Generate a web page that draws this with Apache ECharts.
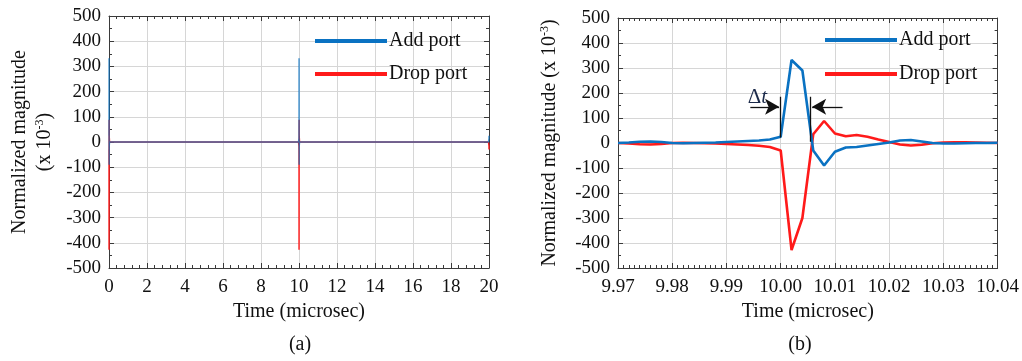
<!DOCTYPE html>
<html>
<head>
<meta charset="utf-8">
<script src="https://cdn.jsdelivr.net/npm/echarts@6/dist/echarts.min.js"></script>
<style>
  html, body { margin: 0; padding: 0; background: #fff; }
  #chart { width: 1022px; height: 361px; }
</style>
</head>
<body>
<div id="chart"></div>
<script>
// (a) full window: pulses at 0, 10 and 20 microsec
const leftTime = [0, 0.002, 0.004, 0.006, 0.008, 0.010, 0.012, 0.03, 9.97, 9.998, 10.000, 10.002, 10.004, 10.006, 10.008, 10.010, 10.012, 10.03, 19.97, 19.998, 20.0];
const leftAdd  = [25, 332, 290, -30, -90, -35, -18, 0, 0, 14, 25, 332, 290, -30, -90, -35, -18, 0, 0, 14, 25];
const leftDrop = [-30, -428, -300, 35, 88, 38, 27, 0, 0, -16, -30, -428, -300, 35, 88, 38, 27, 0, 0, -16, -30];

// (b) zoom around 10 microsec
const rightTime = [9.970, 9.972, 9.974, 9.976, 9.978, 9.980, 9.982, 9.984, 9.986, 9.988,
                   9.990, 9.992, 9.994, 9.996, 9.998, 10.000, 10.002, 10.004, 10.006, 10.008,
                   10.010, 10.012, 10.014, 10.016, 10.018, 10.020, 10.022, 10.024, 10.026, 10.028,
                   10.030, 10.032, 10.034, 10.036, 10.038, 10.040];
const rightAdd  = [0, 2, 5, 6, 4, 0, -1, 0, 1, 2,
                   4, 6, 8, 10, 14, 25, 332, 290, -30, -90,
                   -35, -18, -16, -10, -4, 2, 10, 12, 6, 0,
                   -2, -2, -1, 0, 0, 1];
const rightDrop = [0, -2, -5, -6, -4, 0, 1, 0, -1, -2,
                   -4, -6, -8, -11, -16, -30, -428, -300, 35, 88,
                   38, 27, 32, 25, 14, 4, -6, -10, -7, -1,
                   2, 3, 3, 2, 1, 0];

const yTicks = [-500, 500, 100];
const leftX = [0, 20, 2];
const rightX = [9.97, 10.04, 0.01];

const FONT = '"Liberation Serif", "Times New Roman", serif';
const BLUE = '#0a72c2';
const RED = '#ff1a1a';
const AXIS = '#3a3a3a';

const pair = (t, v) => t.map((x, i) => [x, v[i]]);

function xAxes(grid, range, minorSplit) {
  const base = {
    gridIndex: grid, type: 'value', min: range[0], max: range[1], interval: range[2],
    axisLine: { onZero: false, lineStyle: { color: AXIS, width: 1 } },
    axisTick: { inside: true, length: 5, lineStyle: { color: AXIS } },
    minorTick: { show: true, splitNumber: minorSplit, length: 3, lineStyle: { color: AXIS } },
  };
  return [
    Object.assign({}, base, {
      position: 'bottom',
      name: 'Time (microsec)', nameLocation: 'middle', nameGap: 33,
      nameTextStyle: { fontFamily: FONT, fontSize: 20, color: '#111' },
      axisLabel: {
        fontFamily: FONT, fontSize: 19, color: '#111', margin: 10,
        formatter: v => range[2] < 1 ? v.toFixed(2) : String(Math.round(v)),
      },
      splitLine: { show: true, lineStyle: { color: '#d6d6d6', width: 1 } },
    }),
    Object.assign({}, base, { position: 'top', axisLabel: { show: false }, splitLine: { show: false } }),
  ];
}

function yAxes(grid, name, gap) {
  const base = {
    gridIndex: grid, type: 'value', min: yTicks[0], max: yTicks[1], interval: yTicks[2],
    axisLine: { show: true, onZero: false, lineStyle: { color: AXIS, width: 1 } },
    axisTick: { show: true, inside: true, length: 5, lineStyle: { color: AXIS } },
    minorTick: { show: true, splitNumber: 2, length: 3, lineStyle: { color: AXIS } },
  };
  return [
    Object.assign({}, base, {
      position: 'left',
      name: name, nameLocation: 'middle', nameGap: gap,
      nameTextStyle: {
        fontFamily: FONT, fontSize: 20, color: '#111', lineHeight: 25,
        rich: { sup: { fontFamily: FONT, fontSize: 12, color: '#111', padding: [0, 0, 10, 0] } },
      },
      axisLabel: { fontFamily: FONT, fontSize: 19, color: '#111', margin: 8 },
      splitLine: { show: true, lineStyle: { color: '#d6d6d6', width: 1 } },
    }),
    Object.assign({}, base, { position: 'right', axisLabel: { show: false }, splitLine: { show: false } }),
  ];
}

function legend(left, top, gap) {
  return {
    orient: 'vertical', left: left, top: top, itemGap: gap,
    icon: 'rect', itemWidth: 72, itemHeight: 4,
    data: ['Add port', 'Drop port'],
    textStyle: { fontFamily: FONT, fontSize: 20, color: '#111', lineHeight: 22, padding: [0, 0, 0, -3] },
    selectedMode: false,
  };
}

const arrowStyle = { color: '#111', width: 1.3, type: 'solid' };

const chart = echarts.init(document.getElementById('chart'), null, { renderer: 'canvas' });

chart.setOption({
  animation: false,
  backgroundColor: '#fff',
  grid: [
    { left: 109, top: 16, width: 380, height: 252 },
    { left: 618, top: 18, width: 380, height: 250 },
  ],
  legend: [legend(310, 25, 11), legend(820, 24, 12)],
  xAxis: [...xAxes(0, leftX, 5), ...xAxes(1, rightX, 10)],
  yAxis: [
    ...yAxes(0, 'Normalized magnitude\n(x 10{sup|-3})', 52),
    ...yAxes(1, 'Normalized magnitude (x 10{sup|-3})', 56),
  ],
  series: [
    {
      name: 'Drop port', type: 'line', xAxisIndex: 0, yAxisIndex: 0,
      data: pair(leftTime, leftDrop), showSymbol: false,
      lineStyle: { color: RED, width: 1.4 }, itemStyle: { color: RED },
    },
    {
      name: 'Add port', type: 'line', xAxisIndex: 0, yAxisIndex: 0,
      data: pair(leftTime, leftAdd), showSymbol: false,
      lineStyle: { color: BLUE, width: 1.4, opacity: 0.75 }, itemStyle: { color: BLUE },
    },
    {
      name: 'Drop port', type: 'line', xAxisIndex: 2, yAxisIndex: 2,
      data: pair(rightTime, rightDrop), showSymbol: false,
      lineStyle: { color: RED, width: 2.6 }, itemStyle: { color: RED },
    },
    {
      name: 'Add port', type: 'line', xAxisIndex: 2, yAxisIndex: 2,
      data: pair(rightTime, rightAdd), showSymbol: false,
      lineStyle: { color: BLUE, width: 2.6 }, itemStyle: { color: BLUE },
      markLine: {
        silent: true, symbol: ['none', 'arrow'], symbolSize: [12, 14],
        label: { show: false }, lineStyle: arrowStyle,
        data: [
          [{ coord: [9.9944, 145] }, { coord: [9.9997, 145] }],
          [{ coord: [10.0114, 145] }, { coord: [10.0058, 145] }],
          [{ coord: [10.0, 185], symbol: 'none' }, { coord: [10.0, 22], symbol: 'none' }],
          [{ coord: [10.0055, 185], symbol: 'none' }, { coord: [10.0055, 5], symbol: 'none' }],
        ],
      },
      markPoint: {
        silent: true, symbol: 'circle', symbolSize: 0,
        data: [{ coord: [9.9957, 182] }],
        label: {
          show: true, position: 'inside',
          formatter: '{d|Δ}{t|t}',
          rich: {
            d: { fontFamily: FONT, fontSize: 21, color: '#1b2a4a' },
            t: { fontFamily: FONT, fontSize: 21, fontStyle: 'italic', color: '#1b2a4a' },
          },
        },
      },
    },
  ],
  graphic: [
    { type: 'text', x: 300, y: 345, style: { text: '(a)', font: '20px "Liberation Serif"', fill: '#111', align: 'center', verticalAlign: 'middle' } },
    { type: 'text', x: 800, y: 345, style: { text: '(b)', font: '20px "Liberation Serif"', fill: '#111', align: 'center', verticalAlign: 'middle' } },
  ],
});

window.addEventListener('resize', () => chart.resize());
</script>
</body>
</html>
